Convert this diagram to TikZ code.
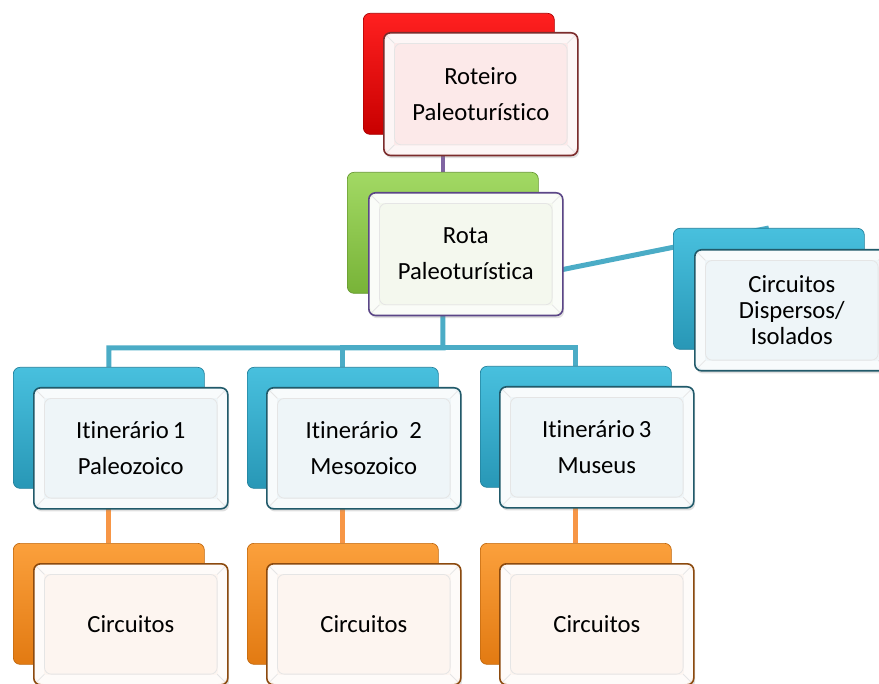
\documentclass[tikz,border=0pt]{standalone}
\usepackage{fontspec}
\setmainfont{Carlito}[Ligatures=NoCommon]
\usetikzlibrary{backgrounds,shadows}

\definecolor{rlight}{HTML}{FF2020}
\definecolor{rdark}{HTML}{C80000}
\definecolor{glight}{HTML}{A2D964}
\definecolor{gdark}{HTML}{78B338}
\definecolor{blight}{HTML}{48C0DE}
\definecolor{bdark}{HTML}{2897B6}
\definecolor{olight}{HTML}{FBA03C}
\definecolor{odark}{HTML}{E27A12}
\definecolor{rfill}{HTML}{FCE9E9}
\definecolor{gfill}{HTML}{F4F8EE}
\definecolor{bfill}{HTML}{EEF5F8}
\definecolor{ofill}{HTML}{FDF5F0}
\definecolor{rline}{HTML}{7B2C2C}
\definecolor{gline}{HTML}{5B4687}
\definecolor{bline}{HTML}{215A6A}
\definecolor{oline}{HTML}{8C4A0E}
\definecolor{plink}{HTML}{8064A2}
\definecolor{blink}{HTML}{4BACC6}
\definecolor{olink}{HTML}{F79646}

\begin{document}
\begin{tikzpicture}[x=0.75pt,y=-0.75pt,
    back box/.style={anchor=north west,rounded corners=5pt,inner sep=0pt,
      minimum width=143.25pt,minimum height=90.75pt,draw=#1!85!black,line width=0.5pt},
    front box/.style={anchor=north west,rounded corners=5pt,inner sep=0pt,
      minimum width=145.5pt,minimum height=90.75pt,line width=1.2pt,align=center,
      font=\fontsize{18.5}{27}\selectfont,
      drop shadow={opacity=0.25,shadow xshift=1pt,shadow yshift=-2pt},
      path picture={
        \draw[white,opacity=0.6,line width=7pt]
          ([shift={(4pt,-4pt)}]path picture bounding box.north west) rectangle
          ([shift={(-4pt,4pt)}]path picture bounding box.south east);
        \draw[black!10,line width=0.6pt]
          ([shift={(8pt,-8pt)}]path picture bounding box.north west) rectangle
          ([shift={(-8pt,8pt)}]path picture bounding box.south east)
          (path picture bounding box.north west) -- ++(8pt,-8pt)
          (path picture bounding box.north east) -- ++(-8pt,-8pt)
          (path picture bounding box.south west) -- ++(8pt,8pt)
          (path picture bounding box.south east) -- ++(-8pt,8pt);}},
    link/.style={line width=3.75pt,#1}]

  \useasboundingbox (0,0) rectangle (879,684);

  % topo
  \node[back box=rdark,top color=rlight,bottom color=rdark] (bRo) at (363,13) {};
  \node[front box,fill=rfill,draw=rline,minimum height=92pt] (Ro) at (383,32) {Roteiro\\Paleoturístico};

  \node[back box=gdark,top color=glight,bottom color=gdark] (bRa) at (347,172) {};
  \node[front box,fill=gfill,draw=gline,minimum height=92pt] (Ra) at (368,192) {Rota\\Paleoturística};

  \node[back box=bdark,top color=blight,bottom color=bdark] (bCi) at (673,228) {};
  \node[front box,fill=bfill,draw=bline,font=\fontsize{18.5}{19.5}\selectfont] (Ci) at (694,249) {Circuitos\\Dispersos/\\Isolados};

  % itinerarios
  \node[back box=bdark,top color=blight,bottom color=bdark] (bI1) at (13,367) {};
  \node[front box,fill=bfill,draw=bline] (I1) at (33,387) {Itinerário\,1\\Paleozoico};
  \node[back box=bdark,top color=blight,bottom color=bdark] (bI2) at (247,367) {};
  \node[front box,fill=bfill,draw=bline] (I2) at (266,387) {Itinerário\ \ 2\\Mesozoico};
  \node[back box=bdark,top color=blight,bottom color=bdark] (bI3) at (480,366) {};
  \node[front box,fill=bfill,draw=bline] (I3) at (499,386) {Itinerário\,3\\Museus};

  % circuitos
  \node[back box=odark,top color=olight,bottom color=odark] (bC1) at (13,543) {};
  \node[front box,fill=ofill,draw=oline] (C1) at (33,563) {Circuitos};
  \node[back box=odark,top color=olight,bottom color=odark] (bC2) at (247,543) {};
  \node[front box,fill=ofill,draw=oline] (C2) at (266,563) {Circuitos};
  \node[back box=odark,top color=olight,bottom color=odark] (bC3) at (480,543) {};
  \node[front box,fill=ofill,draw=oline] (C3) at (499,563) {Circuitos};

  \coordinate (bus) at (443,348);

  \begin{scope}[on background layer]
    \draw[link=plink,line width=3pt] (bRa.north) -- (bRa.north |- bRo.south);
    \draw[link=blink] (bRa.south) -- (bCi.north);
    \draw[link=blink] (bRa.south) -- (bus) -| (bI1.north);
    \draw[link=blink] (bus) -| (bI2.north);
    \draw[link=blink] (bus) -| (bI3.north);
    \path[link=olink]
      (bI1.south) edge (bC1.north)
      (bI2.south) edge (bC2.north)
      (bI3.south) edge (bC3.north);
  \end{scope}
\end{tikzpicture}
\end{document}
